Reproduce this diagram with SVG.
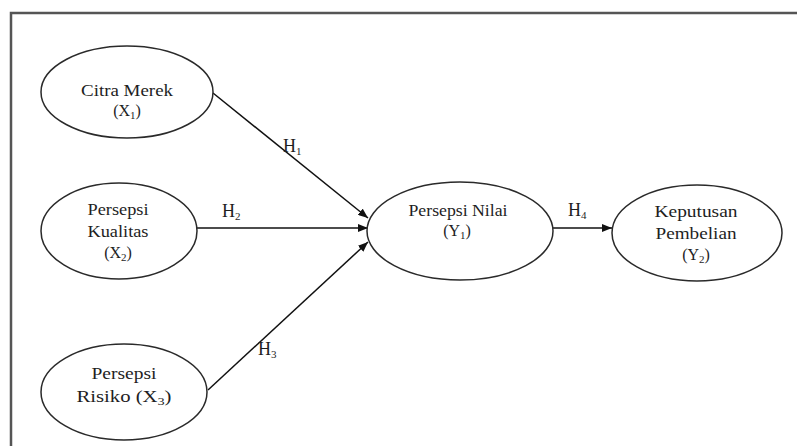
<svg xmlns="http://www.w3.org/2000/svg" width="797" height="446" viewBox="0 0 797 446">
<style>
.node ellipse{fill:#fff;stroke:#2a2a2a;stroke-width:1.5}
text{font-family:"Liberation Serif","Times New Roman",serif;font-size:16px;fill:#1e1e1e;text-anchor:middle}
.sub{font-size:11px}
.lbl{font-size:18px;text-anchor:start}
.edge{stroke:#111;stroke-width:1.5;fill:none;marker-end:url(#arr)}
.frame{stroke:#555;stroke-width:2.5;fill:none}
</style>
<defs>
<marker id="arr" viewBox="0 0 10 8" refX="10" refY="4" markerWidth="10" markerHeight="8" markerUnits="userSpaceOnUse" orient="auto">
<path d="M0,0 L10,4 L0,8 Z" fill="#111"/>
</marker>
</defs>
<rect width="797" height="446" fill="#fff"/>
<g id="frame">
<path class="frame" d="M11,447 L11,13 L798,13"/>
</g>
<g id="connectors">
<line class="edge" x1="213" y1="93" x2="368" y2="218"/>
<line class="edge" x1="197" y1="228" x2="368" y2="228"/>
<line class="edge" x1="208" y1="390" x2="368" y2="242"/>
<line class="edge" x1="553" y1="228" x2="612" y2="228"/>
<text class="lbl" x="283" y="152">H<tspan class="sub" dy="3">1</tspan></text>
<text class="lbl" x="222" y="217">H<tspan class="sub" dy="3">2</tspan></text>
<text class="lbl" x="258" y="355">H<tspan class="sub" dy="3">3</tspan></text>
<text class="lbl" x="568" y="216">H<tspan class="sub" dy="3">4</tspan></text>
</g>
<g id="citra-merek" class="node">
<ellipse cx="127" cy="92" rx="86" ry="46"/>
<text x="127" y="96" textLength="92" lengthAdjust="spacingAndGlyphs">Citra Merek</text>
<text x="127" y="116">(X<tspan class="sub" dy="3">1</tspan><tspan dy="-3">)</tspan></text>
</g>
<g id="persepsi-kualitas" class="node">
<ellipse cx="119" cy="231" rx="78" ry="48"/>
<text x="118" y="215" textLength="61" lengthAdjust="spacingAndGlyphs">Persepsi</text>
<text x="118" y="237" textLength="61" lengthAdjust="spacingAndGlyphs">Kualitas</text>
<text x="118" y="258">(X<tspan class="sub" dy="3">2</tspan><tspan dy="-3">)</tspan></text>
</g>
<g id="persepsi-risiko" class="node">
<ellipse cx="124" cy="392" rx="83" ry="48"/>
<text x="124" y="379" textLength="65" lengthAdjust="spacingAndGlyphs">Persepsi</text>
<text x="124" y="402" textLength="95" lengthAdjust="spacingAndGlyphs">Risiko (X<tspan class="sub" dy="3">3</tspan><tspan dy="-3">)</tspan></text>
</g>
<g id="persepsi-nilai" class="node">
<ellipse cx="460" cy="231" rx="93" ry="49"/>
<text x="458" y="216" textLength="99" lengthAdjust="spacingAndGlyphs">Persepsi Nilai</text>
<text x="457" y="236">(Y<tspan class="sub" dy="3">1</tspan><tspan dy="-3">)</tspan></text>
</g>
<g id="keputusan-pembelian" class="node">
<ellipse cx="697" cy="233" rx="85" ry="48"/>
<text x="696" y="217" textLength="83" lengthAdjust="spacingAndGlyphs">Keputusan</text>
<text x="696" y="239" textLength="81" lengthAdjust="spacingAndGlyphs">Pembelian</text>
<text x="696" y="260">(Y<tspan class="sub" dy="3">2</tspan><tspan dy="-3">)</tspan></text>
</g>
</svg>
